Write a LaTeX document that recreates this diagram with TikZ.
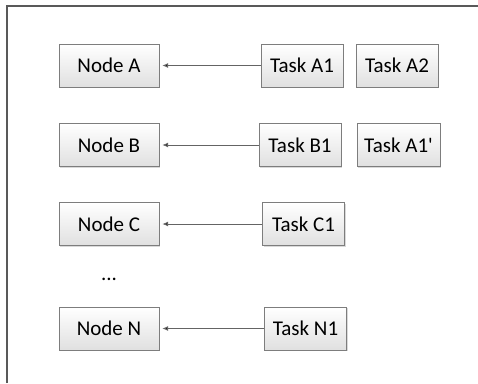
\documentclass[tikz,border=0pt]{standalone}
\usepackage{fontspec}
\setmainfont{Carlito}
\usetikzlibrary{arrows.meta,shadows}

\definecolor{boxline}{RGB}{125,125,125}
\definecolor{boxfill}{RGB}{224,224,224}
\definecolor{linkline}{RGB}{100,100,100}

\begin{document}
\begin{tikzpicture}[x=1pt,y=-1pt,
  box/.style={draw=boxline,top color=white,bottom color=boxfill,
    minimum height=43pt,inner sep=0pt,font=\fontsize{21}{25}\selectfont,
    drop shadow={shadow xshift=1.2pt,shadow yshift=-1.2pt,opacity=.3}},
  place/.style={box,minimum width=100pt},
  job/.style={box,minimum width=82pt},
  link/.style={-{Latex[length=6pt,width=5pt]},draw=linkline,line width=1pt,shorten >=3pt}]
\useasboundingbox (0,0) rectangle (478,383);
% frame round the diagram
\draw[line width=1.4pt,draw=black!65] (7,383) |- (478,6);

% hosts on the left
\node[place] (na) at (109,65.5) {Node A};
\node[place] (nb) at (109,145) {Node B};
\node[place] (nc) at (109,224) {Node C};
\node[font=\fontsize{21}{25}\selectfont] (dots) at (109,279) {...};
\node[place] (nn) at (109,328.5) {Node N};

% tasks on the right
\node[job] (ta1) at (302,65.5) {Task A1};
\node[job] (ta2) at (397,65.5) {Task A2};
\node[job] (tb1) at (300,145) {Task B1};
\node[job,minimum width=83pt] (ta1b) at (398.5,145) {Task A1\textquotesingle};
\node[job] (tc1) at (303.5,224) {Task C1};
\node[job] (tn1) at (305.5,328.5) {Task N1};

\path[link]
(ta1) edge (na)
(tb1) edge (nb)
(tc1) edge (nc)
(tn1) edge (nn);
\end{tikzpicture}
\end{document}
